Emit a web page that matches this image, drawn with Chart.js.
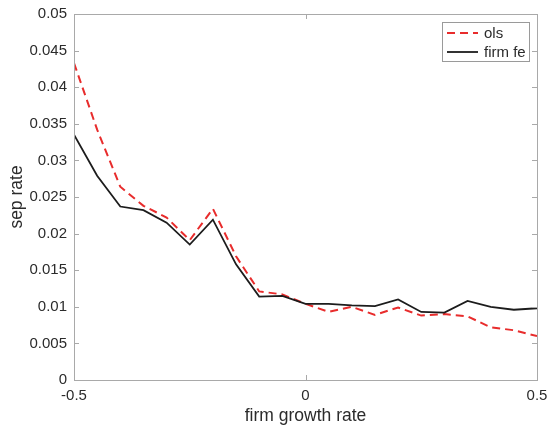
<!DOCTYPE html>
<html>
<head>
<meta charset="utf-8">
<script src="https://cdn.jsdelivr.net/npm/chart.js@4/dist/chart.umd.min.js"></script>
<style>
  html, body { margin: 0; padding: 0; background: #fff; }
  #wrap { width: 549px; height: 427px; }
</style>
</head>
<body>
<div id="wrap"><canvas id="c" width="549" height="427"></canvas></div>
<script>
const growthRates = [-0.5, -0.45, -0.4, -0.35, -0.3, -0.25, -0.2, -0.15, -0.1, -0.05, 0,
                     0.05, 0.1, 0.15, 0.2, 0.25, 0.3, 0.35, 0.4, 0.45, 0.5];
const olsValues = [0.0433, 0.0342, 0.0264, 0.0238, 0.0222, 0.0191, 0.0234, 0.0169, 0.0121, 0.0117, 0.0104,
                   0.0093, 0.0100, 0.0089, 0.0099, 0.0088, 0.0090, 0.0087, 0.0072, 0.0068, 0.0060];
const firmFeValues = [0.0335, 0.0279, 0.0237, 0.0232, 0.0215, 0.0185, 0.0219, 0.0158, 0.0114, 0.0115, 0.0104,
                      0.0104, 0.0102, 0.0101, 0.0110, 0.0093, 0.0092, 0.0108, 0.0100, 0.0096, 0.0098];
const seriesLabels = ['ols', 'firm fe'];
const xTicks = [-0.5, 0, 0.5];
const yTicks = [0, 0.005, 0.01, 0.015, 0.02, 0.025, 0.03, 0.035, 0.04, 0.045, 0.05];

const FONT = '"Liberation Sans", Arial, Helvetica, sans-serif';
const RED = 'rgb(232, 44, 44)';
const BLACK = '#1c1c1c';
const AXIS = '#a9a9a9';
const TEXT = '#2b2b2b';

const toPoints = (vals) => growthRates.map((x, i) => ({ x: x, y: vals[i] }));

const boxAndTicks = {
  id: 'boxAndTicks',
  afterDatasetsDraw(chart) {
    const { ctx, chartArea: a, scales } = chart;
    ctx.save();
    ctx.strokeStyle = AXIS;
    ctx.lineWidth = 1;
    const L = 5;
    ctx.beginPath();
    scales.x.ticks.forEach(t => {
      const px = Math.round(scales.x.getPixelForValue(t.value)) + 0.5;
      ctx.moveTo(px, a.bottom); ctx.lineTo(px, a.bottom - L);
      ctx.moveTo(px, a.top); ctx.lineTo(px, a.top + L);
    });
    scales.y.ticks.forEach(t => {
      const py = Math.round(scales.y.getPixelForValue(t.value)) + 0.5;
      ctx.moveTo(a.left, py); ctx.lineTo(a.left + L, py);
      ctx.moveTo(a.right, py); ctx.lineTo(a.right - L, py);
    });
    ctx.stroke();
    ctx.strokeRect(Math.round(a.left) + 0.5, Math.round(a.top) + 0.5,
                   Math.round(a.right - a.left), Math.round(a.bottom - a.top));
    ctx.restore();
  }
};

const boxedLegend = {
  id: 'boxedLegend',
  afterDraw(chart) {
    const { ctx, chartArea: a } = chart;
    const w = 87, h = 39;
    const x0 = a.right - 8 - w, y0 = a.top + 8;
    ctx.save();
    ctx.fillStyle = '#fff';
    ctx.fillRect(x0, y0, w, h);
    ctx.strokeStyle = '#9a9a9a';
    ctx.lineWidth = 1;
    ctx.strokeRect(Math.round(x0) + 0.5, Math.round(y0) + 0.5, w, h);
    ctx.font = '15px ' + FONT;
    ctx.textBaseline = 'middle';
    ctx.fillStyle = TEXT;
    chart.data.datasets.forEach((ds, i) => {
      const cy = y0 + 11 + i * 19;
      ctx.beginPath();
      ctx.strokeStyle = ds.borderColor;
      ctx.lineWidth = ds.borderWidth;
      ctx.setLineDash(ds.borderDash || []);
      ctx.moveTo(x0 + 5, cy);
      ctx.lineTo(x0 + 36, cy);
      ctx.stroke();
      ctx.setLineDash([]);
      ctx.fillText(ds.label, x0 + 42, cy + 1);
    });
    ctx.restore();
  }
};

new Chart(document.getElementById('c'), {
  type: 'line',
  data: {
    datasets: [
      { label: seriesLabels[0], data: toPoints(olsValues), borderColor: RED, borderWidth: 2,
        borderDash: [8, 5], pointRadius: 0, fill: false, tension: 0, order: 1 },
      { label: seriesLabels[1], data: toPoints(firmFeValues), borderColor: BLACK, borderWidth: 1.8,
        pointRadius: 0, fill: false, tension: 0, order: 0 }
    ]
  },
  options: {
    responsive: false,
    animation: false,
    devicePixelRatio: 1,
    layout: { padding: { top: 14, right: 12, left: 0, bottom: 0 } },
    plugins: { legend: { display: false }, tooltip: { enabled: false } },
    scales: {
      x: {
        type: 'linear', min: -0.5, max: 0.5,
        grid: { display: false, drawTicks: false },
        border: { display: false },
        afterBuildTicks: (s) => { s.ticks = xTicks.map(v => ({ value: v })); },
        afterFit: (s) => { s.height = 47; s.paddingLeft = 0; s.paddingRight = 0; },
        ticks: { color: TEXT, font: { family: FONT, size: 15 }, padding: 7, maxRotation: 0,
                 callback: (v) => String(v) },
        title: { display: true, text: 'firm growth rate', color: TEXT,
                 font: { family: FONT, size: 17.5 }, padding: { top: 0, bottom: 0 } }
      },
      y: {
        type: 'linear', min: 0, max: 0.05,
        grid: { display: false, drawTicks: false },
        border: { display: false },
        afterBuildTicks: (s) => { s.ticks = yTicks.map(v => ({ value: v })); },
        afterFit: (s) => { s.width = 74; s.paddingTop = 0; s.paddingBottom = 0; },
        ticks: { color: TEXT, font: { family: FONT, size: 15 }, padding: 7,
                 callback: (v) => String(v) },
        title: { display: true, text: 'sep rate', color: TEXT,
                 font: { family: FONT, size: 17.5 }, padding: { top: 7, bottom: 0 } }
      }
    }
  },
  plugins: [boxAndTicks, boxedLegend]
});
</script>
</body>
</html>
